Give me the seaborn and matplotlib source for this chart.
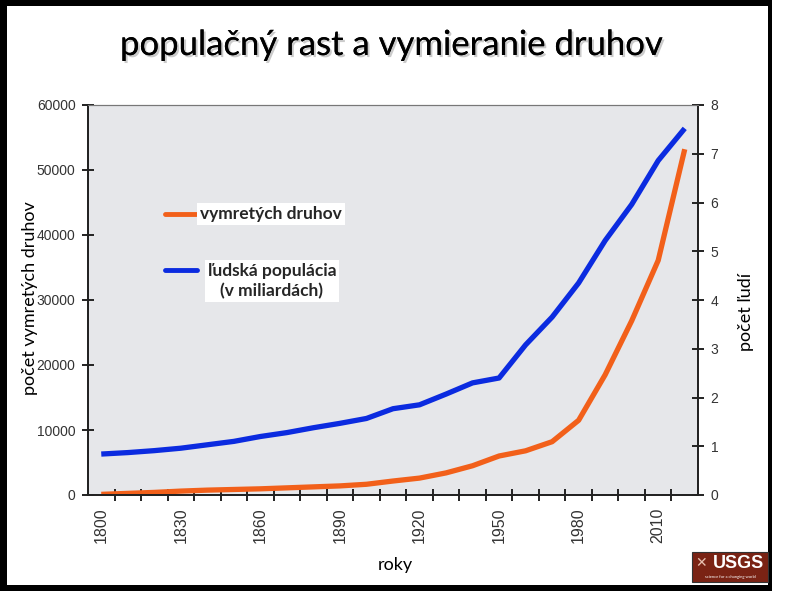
import matplotlib
matplotlib.use("Agg")
import matplotlib.pyplot as plt
import matplotlib.patheffects as pe
from matplotlib.patches import Rectangle
from matplotlib.lines import Line2D
import seaborn as sns
import pandas as pd

# ---- data ----
years = [1800, 1810, 1820, 1830, 1840, 1850, 1860, 1870, 1880, 1890, 1900, 1910,
         1920, 1930, 1940, 1950, 1960, 1970, 1980, 1990, 2000, 2010, 2020]
extinct_species = [100, 250, 400, 600, 750, 850, 950, 1100, 1250, 1400, 1650, 2150,
                   2600, 3400, 4500, 6000, 6800, 8200, 11500, 18500, 26800, 36100, 53200]
population_bn = [0.84, 0.87, 0.91, 0.96, 1.03, 1.10, 1.20, 1.28, 1.38, 1.47, 1.57, 1.77,
                 1.85, 2.07, 2.30, 2.40, 3.08, 3.65, 4.35, 5.22, 5.96, 6.86, 7.52]
label_years = [1800, 1830, 1860, 1890, 1920, 1950, 1980, 2010]
left_ticks = [0, 10000, 20000, 30000, 40000, 50000, 60000]
right_ticks = [0, 1, 2, 3, 4, 5, 6, 7, 8]

title = "populačný rast a vymieranie druhov"
legend_extinct = "vymretých druhov"
legend_pop = "ľudská populácia\n(v miliardách)"

df = pd.DataFrame({"rok": years, "vymreté": extinct_species, "populácia": population_bn})

sns.set_theme(style="white")
FONT = ["Lato", "DejaVu Sans"]
TICKFONT = ["Liberation Sans", "DejaVu Sans"]
plt.rcParams["font.family"] = FONT

ORANGE = "#f2601a"
BLUE = "#0b2be0"

W, H = 800, 591
fig = plt.figure(figsize=(W / 100, H / 100), dpi=100)
fig.patch.set_facecolor("white")


def P(x, y):
    return (x / W, 1 - y / H)


# black frame
frame_kw = dict(transform=fig.transFigure, facecolor="black", edgecolor="none", zorder=0)
fig.patches.append(Rectangle(P(0, 6), 772 / W, 6 / H, **frame_kw))          # top
fig.patches.append(Rectangle(P(0, 591), 7 / W, 1, **frame_kw))              # left
fig.patches.append(Rectangle(P(0, 591), 772 / W, 6 / H, **frame_kw))        # bottom
fig.patches.append(Rectangle(P(768, 591), 4 / W, 1, **frame_kw))            # right

ax = fig.add_axes([88 / W, 1 - 495 / H, (698 - 88) / W, (495 - 105) / H])
ax.set_facecolor("#e6e7ea")
ax2 = ax.twinx()

sns.lineplot(data=df, x="rok", y="vymreté", ax=ax, color=ORANGE, linewidth=3.8,
             solid_capstyle="butt")
sns.lineplot(data=df, x="rok", y="populácia", ax=ax2, color=BLUE, linewidth=3.8,
             solid_capstyle="butt")

ax.set_xlim(1795, 2025)
ax.set_ylim(0, 60000)
ax2.set_ylim(0, 8)

ax.set_xticks(label_years)
ax.set_xticklabels([str(y) for y in label_years], rotation=90, fontsize=11.5,
                   family=TICKFONT, color="#333333")
ax.set_xticks(list(range(1805, 2025, 10)), minor=True)
ax.tick_params(axis="x", which="major", length=0, pad=9, bottom=True)
ax.tick_params(axis="x", which="minor", length=8, width=1.4, direction="inout",
               color="#222222", bottom=True)

ax.set_yticks(left_ticks)
ax.set_yticklabels([str(v) for v in left_ticks], fontsize=10, family=TICKFONT,
                   color="#333333")
ax.tick_params(axis="y", length=8, width=1.4, direction="inout", color="#222222",
               left=True, pad=5)

ax2.set_yticks(right_ticks)
ax2.set_yticklabels([str(v) for v in right_ticks], fontsize=10, family=TICKFONT,
                    color="#333333")
ax2.tick_params(axis="y", length=8, width=1.4, direction="inout", color="#222222",
                right=True, pad=5)

for a in (ax, ax2):
    for side in ("left", "right", "bottom"):
        a.spines[side].set_color("#222222")
        a.spines[side].set_linewidth(1.3)
    a.spines["top"].set_color("#777777")
    a.spines["top"].set_linewidth(0.8)

ax.set_xlabel("")
ax.set_ylabel("")
ax2.set_ylabel("")

# axis titles
fig.text(*P(30, 298), "počet vymretých druhov", rotation=90, ha="center", va="center",
         fontsize=13, color="black")
fig.text(*P(746, 312), "počet ľudí", rotation=90, ha="center", va="center",
         fontsize=13, color="black")
fig.text(*P(395, 565), "roky", ha="center", va="center", fontsize=13, color="black")

# title
fig.text(*P(392, 45), title, ha="center", va="center", fontsize=25, color="black",
         path_effects=[pe.withSimplePatchShadow(offset=(1.5, -1.5), shadow_rgbFace="#999999",
                                                alpha=0.5), pe.Normal()])

# legend (manual, like the original)
fig.add_artist(Line2D([165 / W, 196 / W], [1 - 214 / H, 1 - 214 / H], color=ORANGE,
                      linewidth=3.5, transform=fig.transFigure))
fig.add_artist(Line2D([165 / W, 197 / W], [1 - 270 / H, 1 - 270 / H], color=BLUE,
                      linewidth=3.5, transform=fig.transFigure))
box = dict(facecolor="white", edgecolor="none", pad=2)
fig.text(*P(200, 214), legend_extinct, ha="left", va="center", fontsize=12.5,
         fontweight="bold", bbox=box)
fig.text(*P(272, 281), legend_pop, ha="center", va="center", fontsize=12.5,
         fontweight="bold", bbox=box, linespacing=1.25)

# USGS badge
fig.patches.append(Rectangle(P(692, 582), 76 / W, 30 / H, transform=fig.transFigure,
                             facecolor="#7a2314", edgecolor="#333333", linewidth=0.8))
fig.text(*P(701, 563), "✕", ha="center", va="center", fontsize=10, color="#e8c0b0",
         family=["DejaVu Sans"])
fig.text(*P(739, 563), "USGS", ha="center", va="center", fontsize=13, fontweight="bold",
         color="white", family=["Liberation Sans Narrow", "Liberation Sans", "DejaVu Sans"])
fig.text(*P(730, 577), "science for a changing world", ha="center", va="center",
         fontsize=3, color="white")

fig.savefig("out.png", dpi=100, facecolor="white")
